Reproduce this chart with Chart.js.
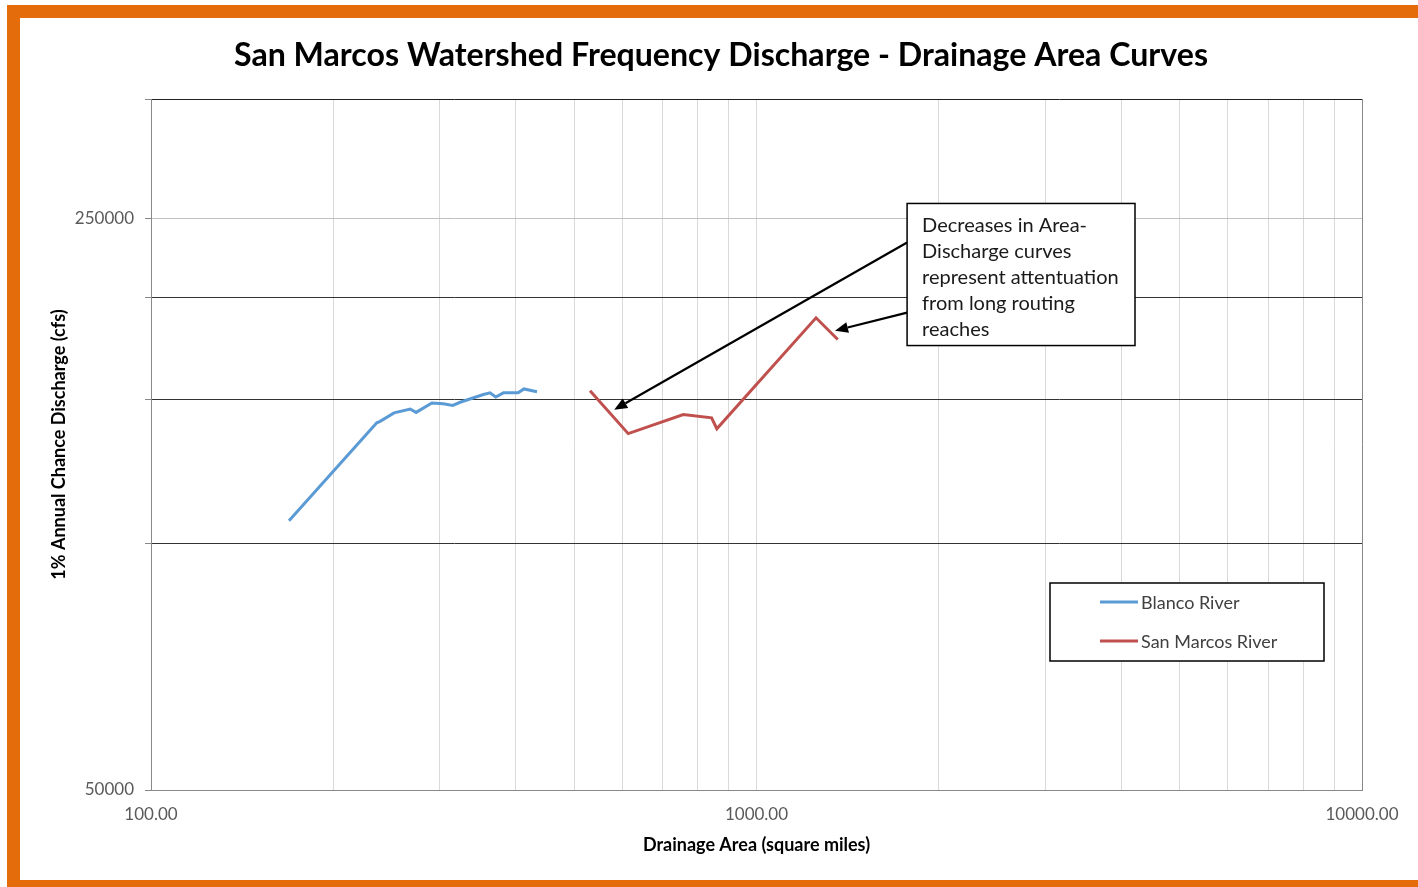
<!DOCTYPE html>
<html>
<head>
<meta charset="utf-8">
<script src="https://cdn.jsdelivr.net/npm/chart.js@4.4.1/dist/chart.umd.min.js"></script>
<style>
  html, body { margin: 0; padding: 0; background: #ffffff; }
  #wrap { width: 1418px; height: 887px; position: relative; }
  canvas { display: block; }
</style>
</head>
<body>
<div id="wrap"><canvas id="c" width="1418" height="887"></canvas></div>
<script>
// ---- Data ----
const blancoArea = [169, 236, 239, 252, 268, 274, 291, 304, 315, 324, 341, 354, 363, 371, 382, 404, 413, 434];
const blancoQ    = [106700, 140600, 141200, 144600, 146200, 144800, 148700, 148400, 147700, 149000, 150900, 152300, 153000, 151200, 153000, 153000, 154700, 153500];
const sanMarcosArea = [531, 614, 757, 843, 860, 1254, 1362];
const sanMarcosQ    = [153900, 136400, 143900, 142600, 138300, 189000, 177800];

const seriesNames = ['Blanco River', 'San Marcos River'];
const xTickValues = [100, 200, 300, 400, 500, 600, 700, 800, 900, 1000, 2000, 3000, 4000, 5000, 6000, 7000, 8000, 9000, 10000];
const xLabeledTicks = [100, 1000, 10000];
const yTickValues = [50000, 100000, 150000, 200000, 250000, 350000];
const yLabeledTicks = [50000, 250000];

const chartTitle = 'San Marcos Watershed Frequency Discharge - Drainage Area Curves';
const xTitle = 'Drainage Area (square miles)';
const yTitle = '1% Annual Chance Discharge (cfs)';
const noteLines = ['Decreases in Area-', 'Discharge curves', 'represent attentuation', 'from long routing', 'reaches'];
// annotation anchors in data units (area, discharge)
const noteBox = { x1: 1773, x2: 4218, yTop: 260800, yBottom: 174800 };
const arrows = [
  { from: [1773, 233600], to: [582, 145900] },
  { from: [1773, 191800], to: [1348, 182300] }
];

const FONT = 'Lato, "Open Sans", sans-serif';
const BLUE = '#5B9BD5';
const RED = '#C0504D';
const ORANGE = '#E46C0A';

function toPts(xs, ys) { return xs.map((v, i) => ({ x: v, y: ys[i] })); }

const decorPlugin = {
  id: 'decor',
  beforeDraw(chart) {
    const ctx = chart.ctx;
    ctx.save();
    ctx.fillStyle = '#ffffff';
    ctx.fillRect(0, 0, chart.width, chart.height);
    ctx.fillStyle = ORANGE;
    ctx.fillRect(7, 5, chart.width - 7, 13);   // top band
    ctx.fillRect(7, 5, 13, chart.height - 5);  // left band
    ctx.fillRect(7, 880, chart.width - 7, 7);  // bottom band
    ctx.restore();
  },
  afterDraw(chart) {
    const ctx = chart.ctx;
    const xs = chart.scales.x, ys = chart.scales.y;
    const ca = chart.chartArea;
    ctx.save();
    // Title, fitted to the reference width
    ctx.font = 'bold 30px ' + FONT;
    const w = ctx.measureText(chartTitle).width;
    const size = 30 * 974 / w;
    ctx.font = 'bold ' + size.toFixed(2) + 'px ' + FONT;
    ctx.fillStyle = '#000000';
    ctx.textAlign = 'center';
    ctx.textBaseline = 'middle';
    ctx.fillText(chartTitle, 721, 56);

    // Arrows
    ctx.strokeStyle = '#000000';
    ctx.fillStyle = '#000000';
    ctx.lineWidth = 2.2;
    arrows.forEach(a => {
      const x1 = xs.getPixelForValue(a.from[0]), y1 = ys.getPixelForValue(a.from[1]);
      const x2 = xs.getPixelForValue(a.to[0]), y2 = ys.getPixelForValue(a.to[1]);
      const ang = Math.atan2(y2 - y1, x2 - x1);
      const hl = 13, hw = 5.5;
      const bx = x2 - hl * Math.cos(ang), by = y2 - hl * Math.sin(ang);
      ctx.beginPath();
      ctx.moveTo(x1, y1);
      ctx.lineTo(bx, by);
      ctx.stroke();
      ctx.beginPath();
      ctx.moveTo(x2, y2);
      ctx.lineTo(bx + hw * Math.sin(ang), by - hw * Math.cos(ang));
      ctx.lineTo(bx - hw * Math.sin(ang), by + hw * Math.cos(ang));
      ctx.closePath();
      ctx.fill();
    });

    // Note box
    const bx1 = xs.getPixelForValue(noteBox.x1), bx2 = xs.getPixelForValue(noteBox.x2);
    const by1 = ys.getPixelForValue(noteBox.yTop), by2 = ys.getPixelForValue(noteBox.yBottom);
    ctx.fillStyle = '#ffffff';
    ctx.fillRect(bx1, by1, bx2 - bx1, by2 - by1);
    ctx.lineWidth = 1.5;
    ctx.strokeStyle = '#000000';
    ctx.strokeRect(bx1, by1, bx2 - bx1, by2 - by1);
    ctx.fillStyle = '#1a1a1a';
    ctx.font = '20px ' + FONT;
    ctx.textAlign = 'left';
    ctx.textBaseline = 'middle';
    noteLines.forEach((t, i) => ctx.fillText(t, bx1 + 15, by1 + 22 + i * 26));

    // Legend box
    const lx = ca.right - 312, ly = ca.bottom - 207, lw = 274, lh = 78;
    ctx.fillStyle = '#ffffff';
    ctx.fillRect(lx, ly, lw, lh);
    ctx.lineWidth = 1.5;
    ctx.strokeStyle = '#000000';
    ctx.strokeRect(lx, ly, lw, lh);
    const cols = [BLUE, RED];
    ctx.font = '18px ' + FONT;
    seriesNames.forEach((n, i) => {
      const yy = ly + 19 + i * 39;
      ctx.strokeStyle = cols[i];
      ctx.lineWidth = 3;
      ctx.beginPath();
      ctx.moveTo(lx + 50, yy);
      ctx.lineTo(lx + 88, yy);
      ctx.stroke();
      ctx.fillStyle = '#404040';
      ctx.fillText(n, lx + 91, yy + 1);
    });
    ctx.restore();
  }
};

new Chart(document.getElementById('c'), {
  type: 'scatter',
  data: {
    datasets: [
      { label: seriesNames[0], data: toPts(blancoArea, blancoQ), showLine: true, borderColor: BLUE, backgroundColor: BLUE, borderWidth: 3, pointRadius: 0, tension: 0 },
      { label: seriesNames[1], data: toPts(sanMarcosArea, sanMarcosQ), showLine: true, borderColor: RED, backgroundColor: RED, borderWidth: 3, pointRadius: 0, tension: 0 }
    ]
  },
  options: {
    responsive: false,
    animation: false,
    layout: { padding: { top: 99, right: 56, left: 0, bottom: 0 } },
    plugins: { legend: { display: false }, title: { display: false }, tooltip: { enabled: false } },
    scales: {
      x: {
        type: 'logarithmic',
        min: 100, max: 10000,
        afterFit(axis) { axis.height = 97; },
        afterBuildTicks(axis) { axis.ticks = xTickValues.map(v => ({ value: v })); },
        ticks: {
          autoSkip: false, maxRotation: 0, minRotation: 0,
          padding: 14,
          color: '#595959',
          font: { family: FONT, size: 17 },
          callback: (v) => xLabeledTicks.includes(v) ? v.toFixed(2) : ''
        },
        grid: {
          color: (c) => (c.tick && c.tick.value === 10000) ? '#888888' : '#d9d9d9',
          lineWidth: 1,
          drawTicks: false
        },
        border: { display: true, color: '#888888', width: 1 },
        title: { display: true, text: xTitle, color: '#000000', font: { family: FONT, size: 18, weight: 'bold' }, padding: { top: 0, bottom: 31 } }
      },
      y: {
        type: 'logarithmic',
        min: 50000, max: 350000,
        afterFit(axis) { axis.width = 151; },
        afterBuildTicks(axis) { axis.ticks = yTickValues.map(v => ({ value: v })); },
        ticks: {
          autoSkip: false,
          padding: 11,
          color: '#595959',
          font: { family: FONT, size: 17 },
          callback: (v) => yLabeledTicks.includes(v) ? String(v) : ''
        },
        grid: {
          color: (c) => {
            const v = c.tick ? c.tick.value : 0;
            if (v === 250000) return '#bfbfbf';
            if (v === 50000) return '#888888';
            if (v === 350000) return '#222222';
            return '#333333';
          },
          lineWidth: 1,
          drawTicks: true,
          tickLength: 6,
          tickColor: '#888888'
        },
        border: { display: true, color: '#888888', width: 1 },
        title: { display: true, text: yTitle, color: '#000000', font: { family: FONT, size: 18, weight: 'bold' }, padding: { top: 48, bottom: 0 } }
      }
    }
  },
  plugins: [decorPlugin]
});
</script>
</body>
</html>
